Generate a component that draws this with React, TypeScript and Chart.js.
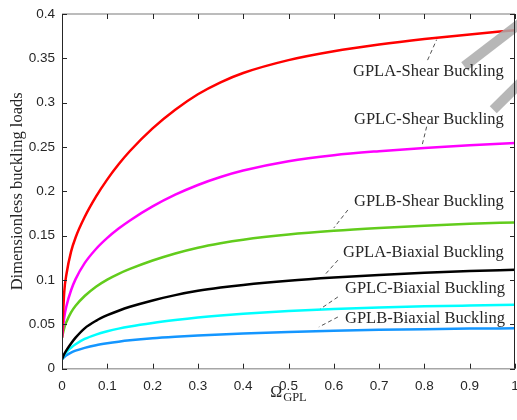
import React, { useEffect, useRef } from 'react';
import { Chart, registerables } from 'chart.js';

Chart.register(...registerables);

// ---- data ----
const omegaGPL = [0, 0.005, 0.01, 0.02, 0.03, 0.05, 0.075, 0.1, 0.125, 0.15, 0.2, 0.25, 0.3, 0.35, 0.4, 0.5, 0.6, 0.7, 0.8, 0.9, 1];
const gplaShear = [0.035, 0.087, 0.107, 0.132, 0.148, 0.171, 0.194, 0.2135, 0.2305, 0.2455, 0.271, 0.292, 0.3095, 0.323, 0.3335, 0.348, 0.358, 0.3655, 0.3717, 0.377, 0.3817];
const gplcShear = [0.035, 0.058, 0.071, 0.0885, 0.101, 0.119, 0.135, 0.1475, 0.158, 0.1672, 0.183, 0.1962, 0.2072, 0.2162, 0.2235, 0.234, 0.2408, 0.2453, 0.2489, 0.2519, 0.2546];
const gplbShear = [0.035, 0.046, 0.053, 0.0635, 0.071, 0.082, 0.0925, 0.1005, 0.107, 0.1125, 0.122, 0.13, 0.1365, 0.1415, 0.1455, 0.1513, 0.1555, 0.1587, 0.1613, 0.1634, 0.165];
const gplaBiaxial = [0.0106, 0.0165, 0.021, 0.0285, 0.035, 0.0455, 0.054, 0.0603, 0.0654, 0.0698, 0.077, 0.083, 0.0878, 0.0915, 0.0945, 0.0992, 0.1028, 0.1057, 0.1081, 0.1101, 0.1116];
const gplcBiaxial = [0.0106, 0.0155, 0.019, 0.0237, 0.0275, 0.0335, 0.0385, 0.0422, 0.0452, 0.0476, 0.0515, 0.0548, 0.0577, 0.0601, 0.0621, 0.0652, 0.0674, 0.0691, 0.0703, 0.0712, 0.072];
const gplbBiaxial = [0.0106, 0.0132, 0.0152, 0.0182, 0.0203, 0.0235, 0.0265, 0.0287, 0.0305, 0.032, 0.0343, 0.036, 0.0374, 0.0386, 0.0396, 0.0413, 0.0427, 0.0438, 0.0446, 0.0452, 0.0456];

const seriesNames = ['GPLA-Shear Buckling', 'GPLC-Shear Buckling', 'GPLB-Shear Buckling', 'GPLA-Biaxial Buckling', 'GPLC-Biaxial Buckling', 'GPLB-Biaxial Buckling'];
const seriesValues = [gplaShear, gplcShear, gplbShear, gplaBiaxial, gplcBiaxial, gplbBiaxial];
const seriesColors = ['#ff0000', '#ff00ff', '#62cc1c', '#000000', '#00ffff', '#1496ff'];

// annotation text anchors (data coords: left x, baseline y)
const labelX = [0.6424, 0.6446, 0.6446, 0.6203, 0.6247, 0.6247];
const labelY = [0.3306, 0.2765, 0.1835, 0.1263, 0.0857, 0.0519];
// leader lines (data coords)
const leaderX0 = [0.807, 0.805, 0.631, 0.609, 0.609, 0.609];
const leaderY0 = [0.348, 0.273, 0.179, 0.1224, 0.0809, 0.0583];
const leaderX1 = [0.827, 0.794, 0.600, 0.578, 0.570, 0.567];
const leaderY1 = [0.371, 0.250, 0.1587, 0.1046, 0.0673, 0.047];

// gray overlay strokes (data coords)
const bandX0 = [0.888, 0.952];
const bandY0 = [0.341, 0.292];
const bandX1 = [1.033, 1.033];
const bandY1 = [0.398, 0.333];

const yTitle = 'Dimensionless buckling loads';
const xTitleMain = 'Ω';
const xTitleSub = 'GPL';

const SERIF = '"Liberation Serif", "Times New Roman", serif';
const SANS = '"Liberation Sans", Arial, sans-serif';

const fmt = (v: number | string) => String(Number(Number(v).toFixed(3)));

const decorPlugin = {
  id: 'decor',
  afterDatasetsDraw(chart: any) {
    const { ctx, chartArea: ca, scales } = chart;
    const x = scales.x;
    const y = scales.y;
    ctx.save();

    // gray overlay strokes
    ctx.strokeStyle = 'rgba(170,170,170,0.85)';
    ctx.lineWidth = 10;
    ctx.lineCap = 'butt';
    for (let i = 0; i < bandX0.length; i++) {
      ctx.beginPath();
      ctx.moveTo(x.getPixelForValue(bandX0[i]), y.getPixelForValue(bandY0[i]));
      ctx.lineTo(x.getPixelForValue(bandX1[i]), y.getPixelForValue(bandY1[i]));
      ctx.stroke();
    }

    // frame
    ctx.lineWidth = 1.5;
    ctx.strokeStyle = '#a6a6a6';
    ctx.beginPath();
    ctx.moveTo(ca.left, ca.top); ctx.lineTo(ca.right, ca.top);
    ctx.moveTo(ca.left, ca.bottom); ctx.lineTo(ca.right, ca.bottom);
    ctx.stroke();
    ctx.lineWidth = 1;
    ctx.strokeStyle = '#262626';
    ctx.beginPath();
    ctx.moveTo(Math.round(ca.left) + 0.5, ca.top); ctx.lineTo(Math.round(ca.left) + 0.5, ca.bottom);
    ctx.moveTo(Math.round(ca.right) - 0.5, ca.top); ctx.lineTo(Math.round(ca.right) - 0.5, ca.bottom);
    ctx.stroke();

    // ticks (inward)
    const tl = 5;
    ctx.beginPath();
    x.ticks.forEach((t: any) => {
      const px = Math.round(x.getPixelForValue(t.value)) + 0.5;
      ctx.moveTo(px, ca.bottom); ctx.lineTo(px, ca.bottom - tl);
      ctx.moveTo(px, ca.top); ctx.lineTo(px, ca.top + tl);
    });
    y.ticks.forEach((t: any) => {
      const py = Math.round(y.getPixelForValue(t.value)) + 0.5;
      ctx.moveTo(ca.left, py); ctx.lineTo(ca.left + tl, py);
      ctx.moveTo(ca.right, py); ctx.lineTo(ca.right - tl, py);
    });
    ctx.stroke();

    // leader lines
    ctx.setLineDash([4, 3]);
    ctx.lineWidth = 0.8;
    ctx.strokeStyle = '#262626';
    for (let i = 0; i < leaderX0.length; i++) {
      ctx.beginPath();
      ctx.moveTo(x.getPixelForValue(leaderX0[i]), y.getPixelForValue(leaderY0[i]));
      ctx.lineTo(x.getPixelForValue(leaderX1[i]), y.getPixelForValue(leaderY1[i]));
      ctx.stroke();
    }
    ctx.setLineDash([]);

    // annotation texts
    ctx.fillStyle = '#262626';
    ctx.font = `16.5px ${SERIF}`;
    ctx.textAlign = 'left';
    ctx.textBaseline = 'alphabetic';
    for (let i = 0; i < seriesNames.length; i++) {
      ctx.fillText(seriesNames[i], x.getPixelForValue(labelX[i]), y.getPixelForValue(labelY[i]));
    }

    // y title
    ctx.save();
    ctx.translate(21.5, (ca.top + ca.bottom) / 2);
    ctx.rotate(-Math.PI / 2);
    ctx.textAlign = 'center';
    ctx.font = `16.5px ${SERIF}`;
    ctx.fillText(yTitle, 0, 0);
    ctx.restore();

    // x title with subscript
    ctx.font = `16px ${SERIF}`;
    const wMain = ctx.measureText(xTitleMain).width;
    ctx.font = `12.5px ${SERIF}`;
    const wSub = ctx.measureText(xTitleSub).width;
    const cx = (ca.left + ca.right) / 2;
    const startX = cx - (wMain + wSub + 1) / 2;
    ctx.font = `16px ${SERIF}`;
    ctx.fillText(xTitleMain, startX, ca.bottom + 28.5);
    ctx.font = `12.5px ${SERIF}`;
    ctx.fillText(xTitleSub, startX + wMain + 1, ca.bottom + 32);

    ctx.restore();
  },
};

export default function App() {
  const ref = useRef<HTMLCanvasElement>(null);
  useEffect(() => {
    document.body.style.margin = '0';
    const datasets = seriesValues.map((vals, i) => ({
      label: seriesNames[i],
      data: omegaGPL.map((xv, j) => ({ x: xv, y: vals[j] })),
      borderColor: seriesColors[i],
      backgroundColor: seriesColors[i],
      borderWidth: 2.5,
      pointRadius: 0,
      fill: false,
      cubicInterpolationMode: 'monotone' as const,
    }));
    const chart = new Chart(ref.current!, {
      type: 'line',
      data: { datasets },
      options: {
        animation: false,
        responsive: false,
        devicePixelRatio: 1,
        layout: { padding: { left: 0, right: 2, top: 14, bottom: 0 } },
        plugins: { legend: { display: false }, tooltip: { enabled: false } },
        scales: {
          x: {
            type: 'linear',
            min: 0,
            max: 1,
            grid: { display: false, drawTicks: false },
            border: { display: false },
            ticks: { stepSize: 0.1, padding: 9, color: '#262626', font: { family: SANS, size: 13.5 }, maxRotation: 0, callback: (v: any) => fmt(v) },
            afterFit: (s: any) => { s.height = 51.3; s.paddingLeft = 0; s.paddingRight = 0; },
          },
          y: {
            type: 'linear',
            min: 0,
            max: 0.4,
            grid: { display: false, drawTicks: false },
            border: { display: false },
            ticks: { stepSize: 0.05, padding: 7, color: '#262626', font: { family: SANS, size: 13.5 }, callback: (v: any) => fmt(v) },
            afterFit: (s: any) => { s.width = 62; s.paddingTop = 0; s.paddingBottom = 0; },
          },
        },
      },
      plugins: [decorPlugin],
    });
    return () => chart.destroy();
  }, []);
  return (
    <div style={{ position: 'fixed', left: 0, top: 0, width: 517, height: 420, background: '#fff' }}>
      <canvas ref={ref} width={517} height={420} style={{ width: 517, height: 420, display: 'block' }} />
    </div>
  );
}
